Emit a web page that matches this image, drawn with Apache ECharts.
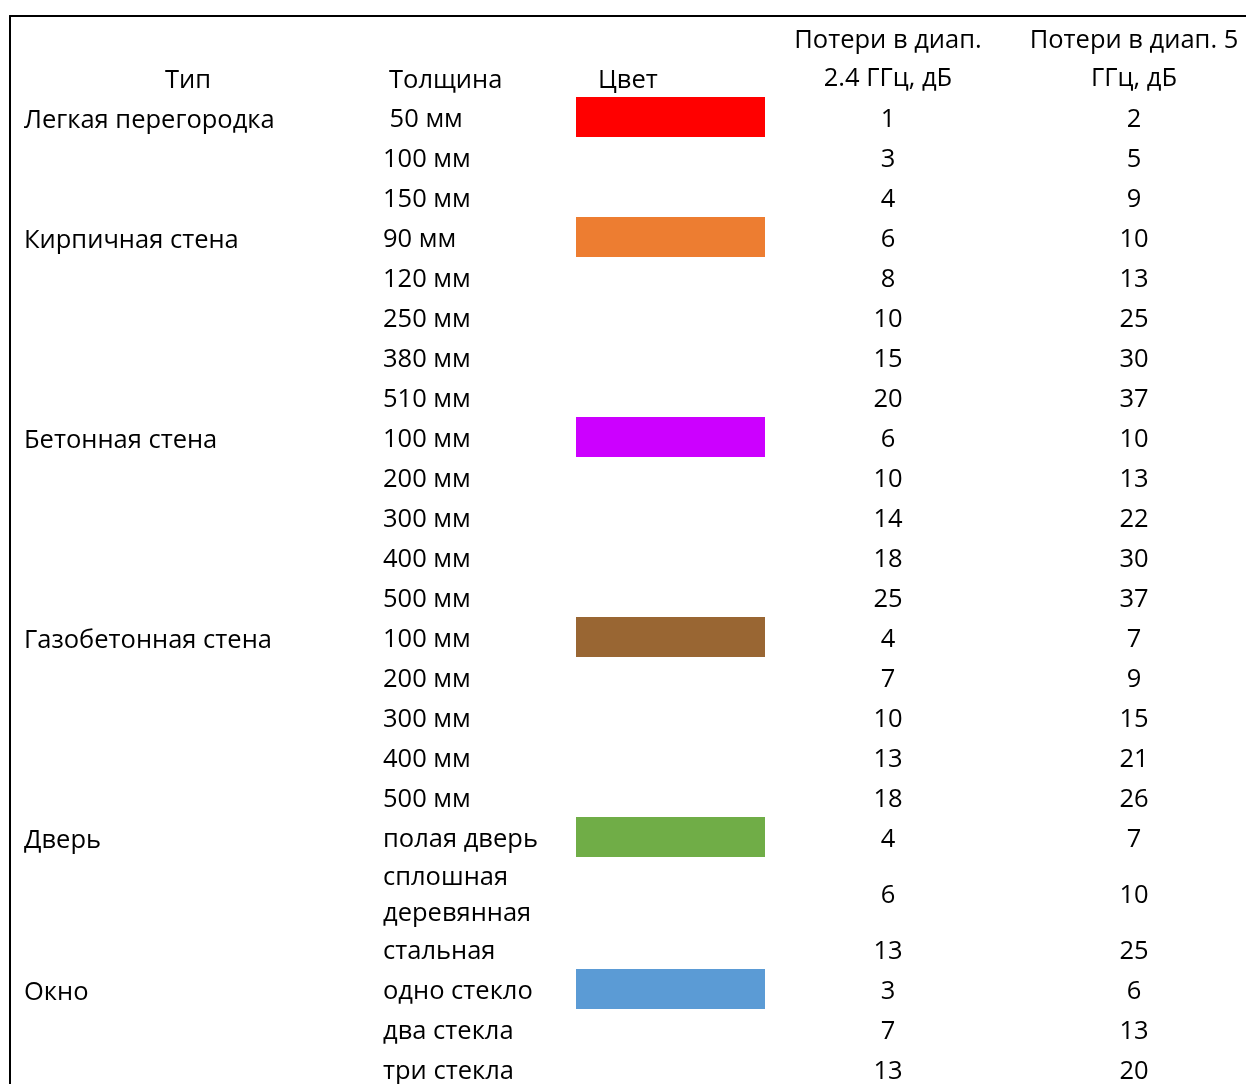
<!DOCTYPE html>
<html>
<head>
<meta charset="utf-8">
<script src="https://cdn.jsdelivr.net/npm/echarts@6/dist/echarts.min.js"></script>
<style>
html,body{margin:0;padding:0;background:#fff;}
#chart{width:1246px;height:1084px;}
</style>
</head>
<body>
<div id="chart"></div>
<script>
// ---- data ----
var headers = ['Тип', 'Толщина', 'Цвет', 'Потери в диап.\n2.4 ГГц, дБ', 'Потери в диап. 5\nГГц, дБ'];
var types = ['Легкая перегородка', 'Кирпичная стена', 'Бетонная стена', 'Газобетонная стена', 'Дверь', 'Окно'];
var typeStartRow = [0, 3, 8, 13, 18, 21];
var typeColors = ['#FF0000', '#ED7D31', '#CC00FF', '#996633', '#70AD47', '#5B9BD5'];
var thickness = [' 50 мм', '100 мм', '150 мм',
  '90 мм', '120 мм', '250 мм', '380 мм', '510 мм',
  '100 мм', '200 мм', '300 мм', '400 мм', '500 мм',
  '100 мм', '200 мм', '300 мм', '400 мм', '500 мм',
  'полая дверь', 'сплошная\nдеревянная', 'стальная',
  'одно стекло', 'два стекла', 'три стекла'];
var loss24 = [1, 3, 4, 6, 8, 10, 15, 20, 6, 10, 14, 18, 25, 4, 7, 10, 13, 18, 4, 6, 13, 3, 7, 13];
var loss5 = [2, 5, 9, 10, 13, 25, 30, 37, 10, 13, 22, 30, 37, 7, 9, 15, 21, 26, 7, 10, 25, 6, 13, 20];

// ---- layout (styles) ----
var FONT = 'Open Sans';
var FS = 25.5;
var LINE_H = 36;
var TEXT_DY = 2;
var firstRowTop = 98;
var colX = { type: 24, typeHead: 188, thick: 383, thickHead: 389, colorHead: 598, rectL: 576, rectR: 765, l24: 888, l5: 1134 };

// row geometry derived from number of text lines
var rowTop = [], rowH = [];
(function () {
  var t = firstRowTop;
  thickness.forEach(function (s) {
    var lines = s.split('\n').length;
    var h = 8 + 32 * lines;
    rowTop.push(t); rowH.push(h);
    t += h;
  });
})();
function rowMid(i) { return rowTop[i] + rowH[i] / 2 + TEXT_DY; }

function textSeries(items) {
  return {
    type: 'custom',
    coordinateSystem: 'cartesian2d',
    silent: true, clip: false,
    data: items.map(function (d) { return [d.x, d.y]; }),
    renderItem: function (params, api) {
      var d = items[params.dataIndex];
      var p = api.coord([api.value(0), api.value(1)]);
      return {
        type: 'text', x: p[0], y: p[1],
        style: {
          text: d.text, fill: '#000', fontSize: FS, fontFamily: FONT,
          align: d.align, verticalAlign: 'middle',
          textAlign: d.align, textVerticalAlign: 'middle',
          lineHeight: d.lh || LINE_H
        }
      };
    }
  };
}

var headItems = [
  { x: colX.typeHead, y: 81, text: headers[0], align: 'center' },
  { x: colX.thickHead, y: 81, text: headers[1], align: 'left' },
  { x: colX.colorHead, y: 81, text: headers[2], align: 'left' },
  { x: colX.l24, y: 60, text: headers[3], align: 'center', lh: 38 },
  { x: colX.l5, y: 60, text: headers[4], align: 'center', lh: 38 }
];
var typeItems = types.map(function (t, k) {
  return { x: colX.type, y: rowMid(typeStartRow[k]) + 1, text: t, align: 'left' };
});
var thickItems = thickness.map(function (t, i) {
  return { x: colX.thick, y: rowMid(i), text: t, align: 'left' };
});
var l24Items = loss24.map(function (v, i) { return { x: colX.l24, y: rowMid(i), text: String(v), align: 'center' }; });
var l5Items = loss5.map(function (v, i) { return { x: colX.l5, y: rowMid(i), text: String(v), align: 'center' }; });

var rectSeries = {
  type: 'custom',
  coordinateSystem: 'cartesian2d',
  silent: true, clip: false,
  data: typeStartRow.map(function (r) { return [colX.rectL, rowTop[r] - 1, colX.rectR, rowTop[r] + 39]; }),
  renderItem: function (params, api) {
    var a = api.coord([api.value(0), api.value(1)]);
    var b = api.coord([api.value(2), api.value(3)]);
    return {
      type: 'rect',
      shape: { x: a[0], y: a[1], width: b[0] - a[0], height: b[1] - a[1] },
      style: { fill: typeColors[params.dataIndex] }
    };
  }
};

var chart = echarts.init(document.getElementById('chart'), null, { renderer: 'canvas' });
var axisBase = {
  type: 'value',
  axisLine: { show: true, onZero: false, lineStyle: { color: '#000', width: 2 } },
  axisTick: { show: false }, axisLabel: { show: false }, splitLine: { show: false }
};
chart.setOption({
  animation: false,
  backgroundColor: '#fff',
  grid: { left: 10, top: 16, right: 0, bottom: 0, containLabel: false },
  xAxis: Object.assign({}, axisBase, { min: 10, max: 1246, position: 'top' }),
  yAxis: Object.assign({}, axisBase, { min: 16, max: 1084, inverse: true, position: 'left' }),
  series: [
    rectSeries,
    textSeries(headItems),
    textSeries(typeItems),
    textSeries(thickItems),
    textSeries(l24Items),
    textSeries(l5Items)
  ]
});
</script>
</body>
</html>
